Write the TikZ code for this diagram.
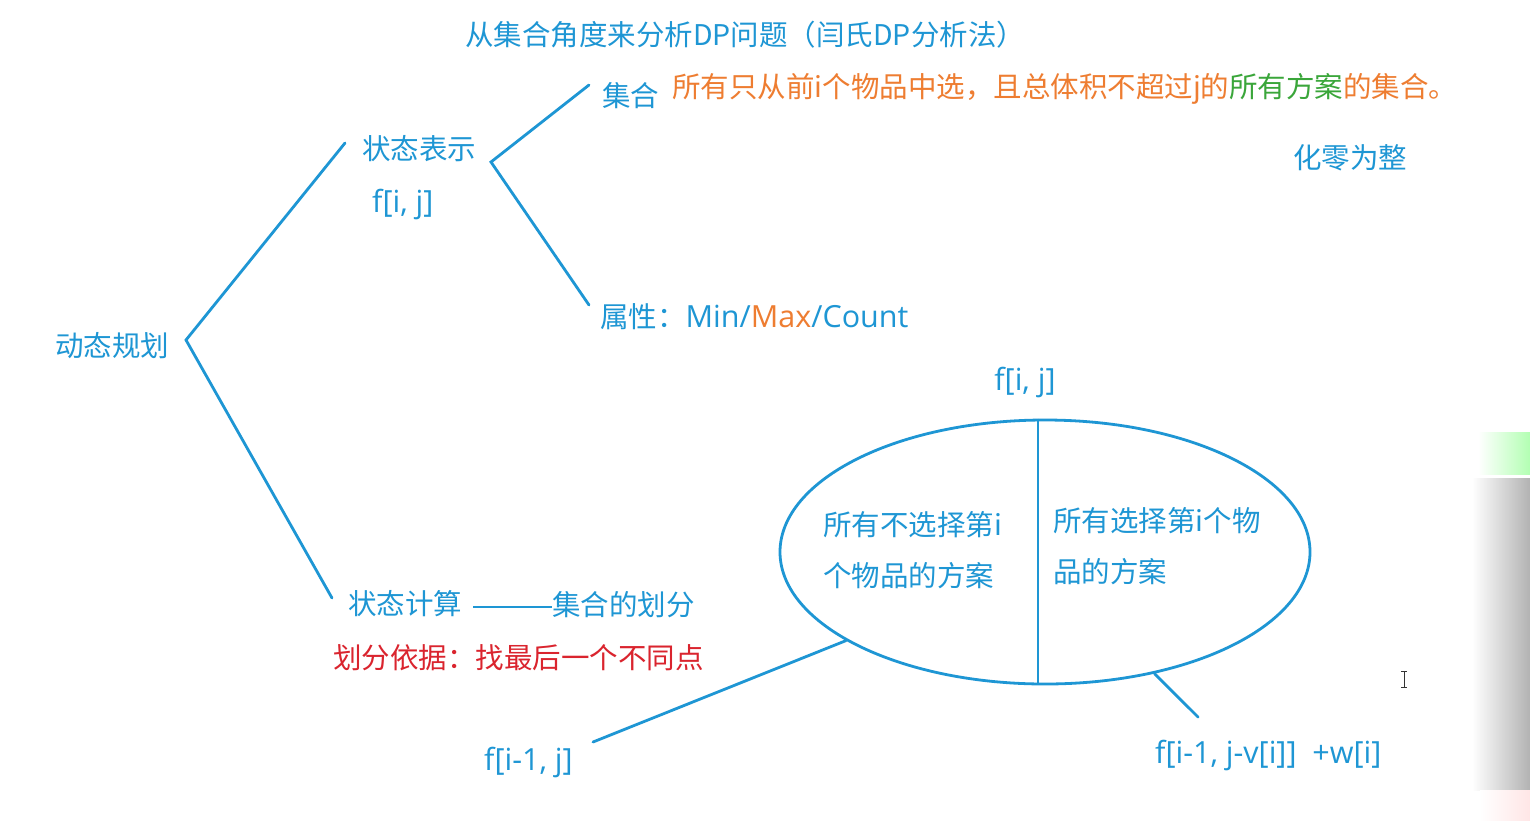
\documentclass[tikz,border=0pt]{standalone}
\usepackage{fontspec}
\setmainfont{Noto Sans CJK SC}
\newfontfamily\latf[Scale=1.07]{Open Sans}
\newcommand{\lat}[1]{{\latf #1}}
\usetikzlibrary{shapes.geometric}
\definecolor{lblue}{RGB}{30,150,212}
\definecolor{lorange}{RGB}{238,125,49}
\definecolor{lgreen}{RGB}{58,166,58}
\definecolor{lred}{RGB}{218,36,46}
\tikzset{
  txt/.style={anchor=west,inner sep=0pt,text=lblue,font=\fontsize{28.5}{34}\selectfont},
  ln/.style={draw=lblue,line width=2.8pt,line cap=round}
}
\begin{document}
\begin{tikzpicture}[x=1pt,y=-1pt]
\useasboundingbox (0,0) rectangle (1530,820);
\fill[white] (0,0) rectangle (1530,820);
% screen artefacts at the right edge
\shade[left color=white,right color=green!30] (1478,432) rectangle (1530,474);
\shade[left color=white,right color=gray!60] (1472,478) rectangle (1530,790);
\shade[left color=white,right color=red!10] (1480,790) rectangle (1530,820);
\draw[black!80,line width=0.8pt] (1404,671) -- (1404,687) (1401,671) -- (1407,671) (1401,687) -- (1407,687);

% texts
\node[txt] (title) at (465,35) {从集合角度来分析DP问题（闫氏DP分析法）};
\node[txt] (jihe) at (602,96) {集合};
\node[txt,text=lorange] (desc) at (672,89) {所有只从前i个物品中选，且总体积不超过j的\textcolor{lgreen}{所有方案}的集合。};
\node[txt] (hlwz) at (1293,158) {化零为整};
\node[txt] (zt) at (362,149) {状态表示};
\node[txt] (fij1) at (372,204) {\lat{f[i, j]}};
\node[txt] (attr) at (600,317) {属性：\lat{Min/\textcolor{lorange}{Max}/Count}};
\node[txt] (dp) at (55,346) {动态规划};
\node[txt] (calc) at (348,604) {状态计算};
\node[txt] (part) at (552,605) {集合的划分};
\node[txt,text=lred] (basis) at (333,658) {划分依据：找最后一个不同点};
\node[txt,anchor=center] (fij2) at (1025,382) {\lat{f[i, j]}};

% ellipse
\node[ellipse,draw=lblue,line width=2.8pt,minimum width=530pt,minimum height=264pt,inner sep=0pt] (set) at (1045,552) {};
\draw[ln,line cap=butt] ([xshift=-7pt]set.north) -- ([xshift=-7pt]set.south);
\node[txt] (la) at (823,525) {所有不选择第i};
\node[txt] (lb) at (823,576) {个物品的方案};
\node[txt] (ra) at (1053,521) {所有选择第i个物};
\node[txt] (rb) at (1053,572) {品的方案};

\node[txt] (fl) at (484,762) {\lat{f[i-1, j]}};
\node[txt] (fr) at (1155,755) {\lat{f[i-1, j-v[i]]\ \ +w[i]}};

% tree connectors
\coordinate (v0) at (186,340);
\coordinate (v0a) at (345,143);
\coordinate (v0b) at (332,598);
\coordinate (v1) at (491,162);
\coordinate (v1a) at (589,85);
\coordinate (v1b) at (589,305);
\coordinate (dashA) at (473,607);
\coordinate (dashB) at (552,607);
\coordinate (flend) at (593,742);
\coordinate (frend) at (1198,717);

\draw[ln] (v0a) -- (v0) -- (v0b);
\draw[ln] (v1a) -- (v1) -- (v1b);
\draw[lblue,line width=2.6pt] (dashA) -- (dashB);
\draw[ln] (set.204.3) -- (flend);
\draw[ln] (set.312.8) -- (frend);
\end{tikzpicture}
\end{document}
